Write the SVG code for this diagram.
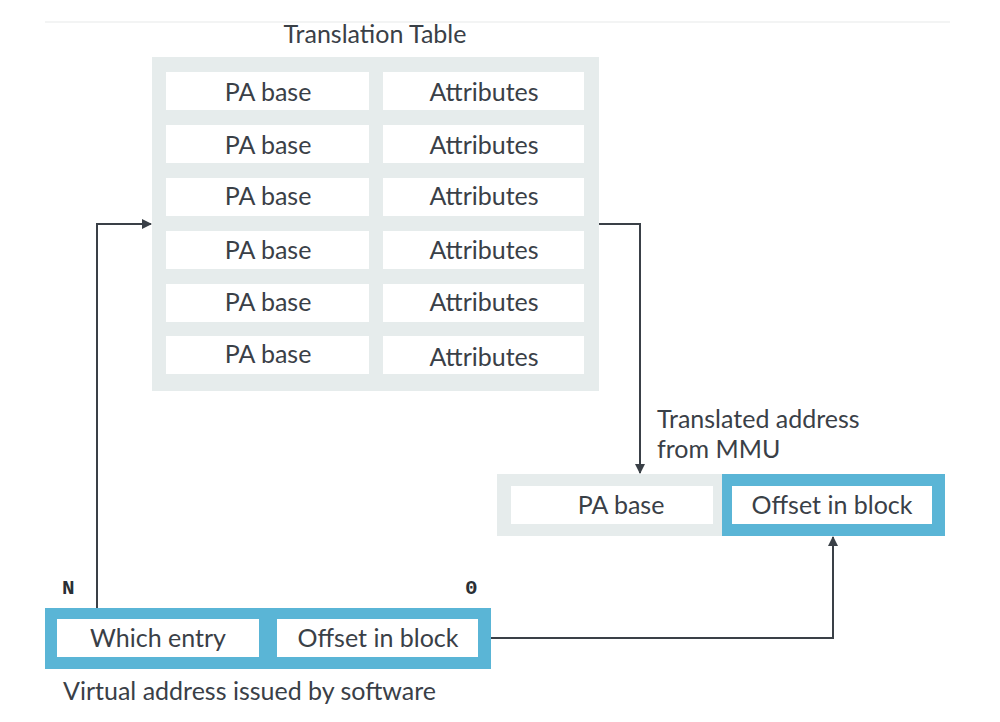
<svg xmlns="http://www.w3.org/2000/svg" width="1000" height="722" viewBox="0 0 1000 722">
<defs>
<style>
.t{font-family:Lato,"Open Sans","Liberation Sans",sans-serif;font-size:25px;fill:#3a4047}
.c{text-anchor:middle}
.cell{fill:#ffffff}
.gray{fill:#e6ecec}
.blue{fill:#5ab5d6}
.ln{fill:none;stroke:#3a4047;stroke-width:2}
.m{font-family:"Liberation Mono","Courier New",monospace;font-size:21px;font-weight:bold;fill:#2a2f35}
</style>
<marker id="ah" viewBox="0 0 10 10" refX="9" refY="5" markerWidth="5" markerHeight="5" orient="auto">
<path d="M0,0 L10,5 L0,10 z" fill="#3a4047"/>
</marker>
</defs>
<rect width="1000" height="722" fill="#ffffff"/>
<line x1="45" y1="22" x2="950" y2="22" stroke="#f3f4f4" stroke-width="2"/>
<g id="translation-table">
<text class="t c" x="375" y="43">Translation Table</text>
<rect class="gray" x="152" y="57" width="447" height="334"/>
<rect class="cell" x="166" y="72" width="203" height="38"/><rect class="cell" x="383" y="72" width="201" height="38"/>
<rect class="cell" x="166" y="125" width="203" height="38"/><rect class="cell" x="383" y="125" width="201" height="38"/>
<rect class="cell" x="166" y="178" width="203" height="38"/><rect class="cell" x="383" y="178" width="201" height="38"/>
<rect class="cell" x="166" y="231" width="203" height="38"/><rect class="cell" x="383" y="231" width="201" height="38"/>
<rect class="cell" x="166" y="284" width="203" height="38"/><rect class="cell" x="383" y="284" width="201" height="38"/>
<rect class="cell" x="166" y="336" width="203" height="38"/><rect class="cell" x="383" y="336" width="201" height="38"/>
<text class="t c" x="268" y="101">PA base</text><text class="t c" x="484" y="101">Attributes</text>
<text class="t c" x="268" y="154">PA base</text><text class="t c" x="484" y="154">Attributes</text>
<text class="t c" x="268" y="205">PA base</text><text class="t c" x="484" y="205">Attributes</text>
<text class="t c" x="268" y="259">PA base</text><text class="t c" x="484" y="259">Attributes</text>
<text class="t c" x="268" y="311">PA base</text><text class="t c" x="484" y="311">Attributes</text>
<text class="t c" x="268" y="363">PA base</text><text class="t c" x="484" y="366">Attributes</text>
</g>
<g id="physical-address">
<text class="t" x="657" y="428">Translated address</text>
<text class="t" x="657" y="458">from MMU</text>
<rect class="gray" x="497" y="474" width="225" height="62"/>
<rect class="blue" x="722" y="474" width="223" height="62"/>
<rect class="cell" x="511" y="486" width="202" height="38"/>
<rect class="cell" x="732" y="486" width="200" height="38"/>
<text class="t c" x="621" y="514">PA base</text>
<text class="t c" x="832" y="514">Offset in block</text>
</g>
<g id="virtual-address">
<text class="m" x="62" y="594">N</text>
<text class="m" x="465" y="594">0</text>
<rect class="blue" x="45" y="608" width="446" height="61"/>
<rect class="cell" x="57" y="619" width="202" height="38"/>
<rect class="cell" x="277" y="619" width="201" height="38"/>
<text class="t c" x="158" y="647">Which entry</text>
<text class="t c" x="378" y="647">Offset in block</text>
<text class="t" x="63" y="700">Virtual address issued by software</text>
</g>
<g id="connectors">
<path class="ln" d="M97,608 V224 H151" marker-end="url(#ah)"/>
<path class="ln" d="M599,224 H640 V473" marker-end="url(#ah)"/>
<path class="ln" d="M491,638 H833 V537" marker-end="url(#ah)"/>
</g>
</svg>
